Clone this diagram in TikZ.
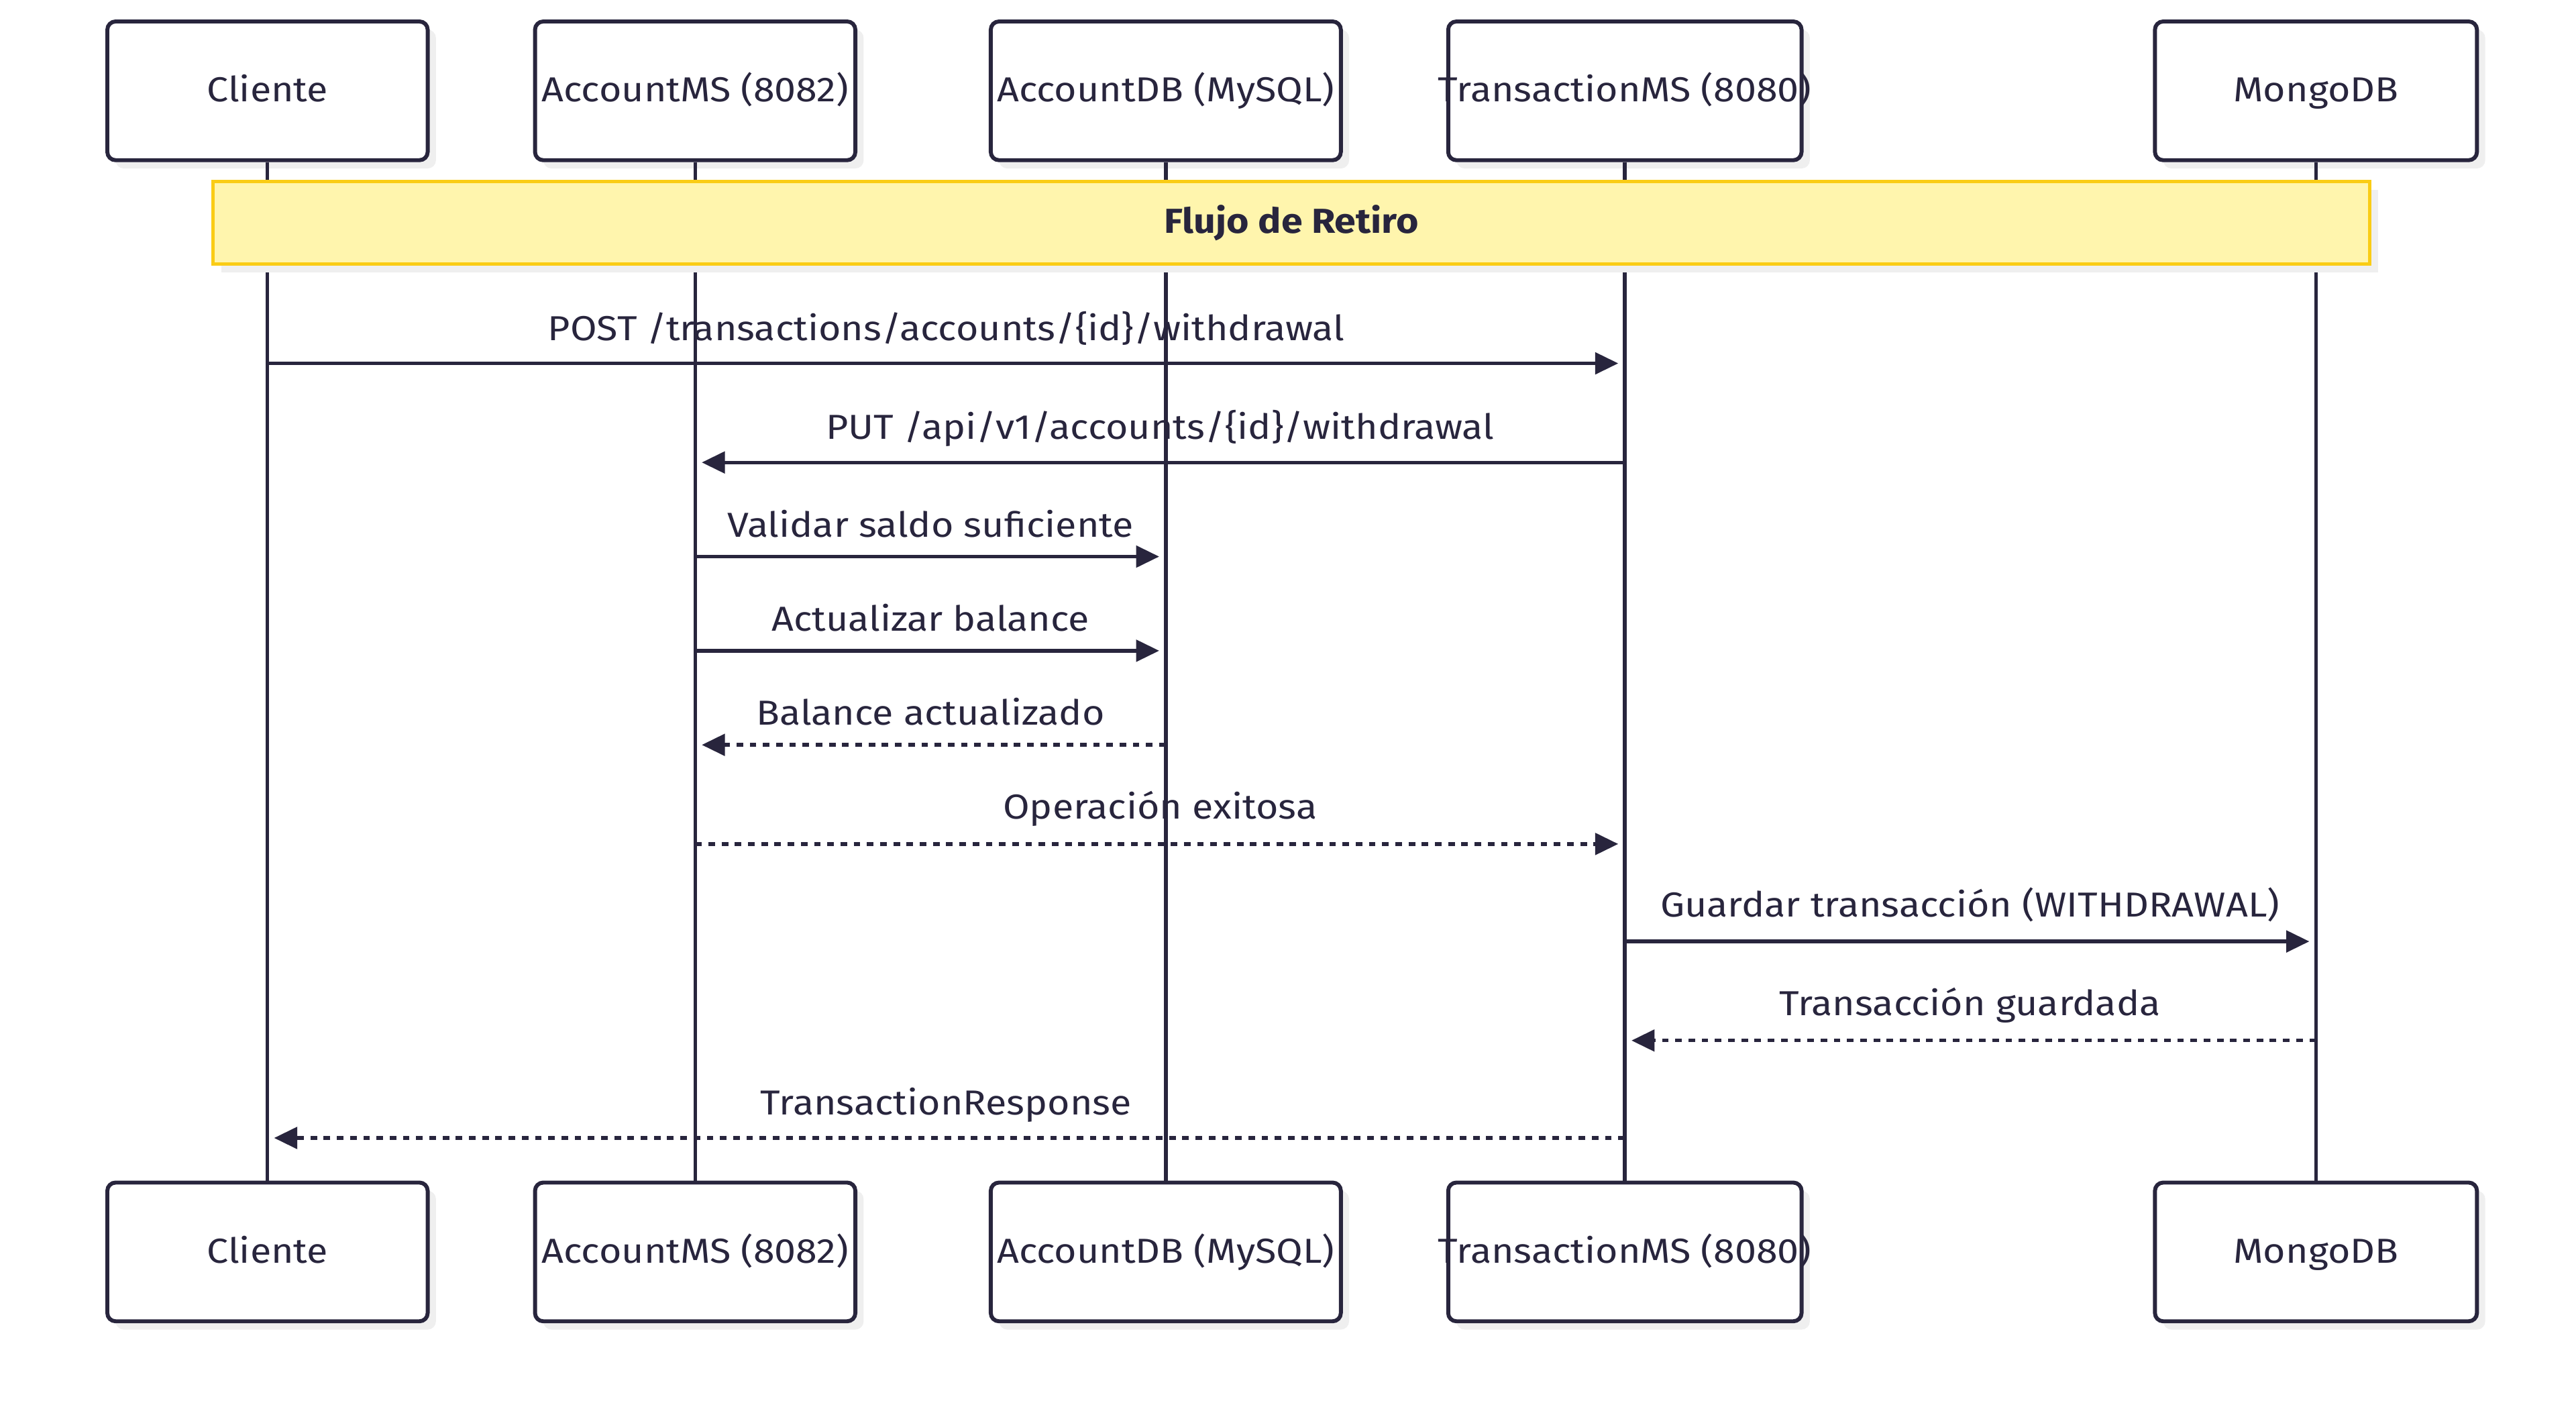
\documentclass[tikz,border=0pt]{standalone}
\usepackage{fontspec}
\setmainfont{Fira Sans}[FakeStretch=1.11]
\usetikzlibrary{arrows.meta,shadows}
\definecolor{ink}{HTML}{28253D}
\definecolor{notefill}{HTML}{FFF5AD}
\definecolor{noteline}{HTML}{FACC15}
\definecolor{shade}{HTML}{EFEFEF}
\newcommand{\actortext}[1]{\makebox[0pt]{\vphantom{(Ay}#1}}
\tikzset{
  actor/.style={draw=ink, line width=2.4pt, rounded corners=5pt, fill=white,
    minimum height=84pt, inner sep=0pt, text=ink,
    font=\fontsize{21}{24}\selectfont,
    drop shadow={shadow xshift=5pt, shadow yshift=-5pt, fill=shade, opacity=1}},
  life/.style={draw=ink, line width=2.2pt},
  notebox/.style={draw=noteline, line width=2pt, fill=notefill, minimum width=1306pt,
    minimum height=50pt, inner sep=0pt, text=ink,
    font=\fontsize{21}{24}\selectfont\bfseries,
    drop shadow={shadow xshift=5pt, shadow yshift=-5pt, fill=shade, opacity=1}},
  msg/.style={draw=ink, line width=2.2pt, shorten >=4pt,
    -{Triangle[length=14pt,width=13pt]}},
  reply/.style={msg, dash pattern=on 4pt off 4pt},
  lbl/.style={anchor=base, text=ink, inner sep=0pt, font=\fontsize{21}{24}\selectfont}
}
\begin{document}
\begin{tikzpicture}[x=1pt,y=-1pt]
\useasboundingbox[fill=white] (0,0) rectangle (1560,850.3);
% participants top
\node[actor, minimum width=194pt] (ct) at (162,55) {\actortext{Cliente}};
\node[actor, minimum width=194pt] (at) at (421,55) {\actortext{AccountMS (8082)}};
\node[actor, minimum width=212pt] (dt) at (706,55) {\actortext{AccountDB (MySQL)}};
\node[actor, minimum width=214pt] (tt) at (984,55) {\actortext{TransactionMS (8080)}};
\node[actor, minimum width=195pt] (mt) at (1402.5,55) {\actortext{MongoDB}};
% participants bottom
\node[actor, minimum width=194pt] (cb) at (162,758) {\actortext{Cliente}};
\node[actor, minimum width=194pt] (ab) at (421,758) {\actortext{AccountMS (8082)}};
\node[actor, minimum width=212pt] (db) at (706,758) {\actortext{AccountDB (MySQL)}};
\node[actor, minimum width=214pt] (tb) at (984,758) {\actortext{TransactionMS (8080)}};
\node[actor, minimum width=195pt] (mb) at (1402.5,758) {\actortext{MongoDB}};
% lifelines
\draw[life] (ct.south) -- (cb.north);
\draw[life] (at.south) -- (ab.north);
\draw[life] (dt.south) -- (db.north);
\draw[life] (tt.south) -- (tb.north);
\draw[life] (mt.south) -- (mb.north);
% note
\node[notebox] (note) at (782,135) {Flujo de Retiro};
% messages
\draw[msg] (ct |- 0,220) -- (tt |- 0,220);
\node[lbl] (l1) at (573,206) {POST /transactions/accounts/\{id\}/withdrawal};
\draw[msg] (tt |- 0,280) -- (at |- 0,280);
\node[lbl] (l2) at (702.5,266) {PUT /api/v1/accounts/\{id\}/withdrawal};
\draw[msg] (at |- 0,337) -- (dt |- 0,337);
\node[lbl] (l3) at (563.5,325) {Validar saldo suficiente};
\draw[msg] (at |- 0,394) -- (dt |- 0,394);
\node[lbl] (l4) at (563.5,382) {Actualizar balance};
\draw[reply] (dt |- 0,451) -- (at |- 0,451);
\node[lbl] (l5) at (563.5,439) {Balance actualizado};
\draw[reply] (at |- 0,511) -- (tt |- 0,511);
\node[lbl] (l6) at (702.5,496) {Operación exitosa};
\draw[msg] (tt |- 0,570) -- (mt |- 0,570);
\node[lbl] (l7) at (1193,555) {Guardar transacción (WITHDRAWAL)};
\draw[reply] (mt |- 0,630) -- (tt |- 0,630);
\node[lbl] (l8) at (1193,615) {Transacción guardada};
\draw[reply] (tt |- 0,689) -- (ct |- 0,689);
\node[lbl] (l9) at (573,675) {TransactionResponse};
\end{tikzpicture}
\end{document}
